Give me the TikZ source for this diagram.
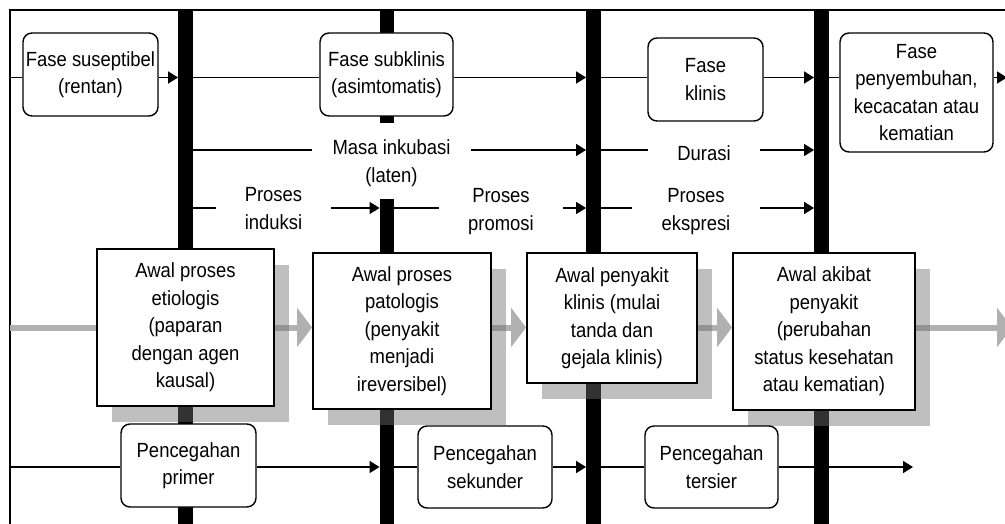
\documentclass[tikz,border=0pt]{standalone}
\usepackage{fontspec}
\setmainfont{Liberation Sans}[FakeStretch=0.9]
\usetikzlibrary{arrows.meta,shadows}
\pgfdeclarelayer{bars}
\pgfsetlayers{bars,main}
\begin{document}
\begin{tikzpicture}[x=1pt,y=-1pt,
  every node/.style={font=\fontsize{20.5}{27.5}\selectfont, align=center, inner sep=0pt},
  phase/.style={draw, line width=1.4pt, rounded corners=9pt, fill=white},
  event/.style={draw, line width=2pt, fill=white,
    drop shadow={shadow xshift=15pt, shadow yshift=-16pt, fill=black!56, opacity=0.45}},
  bar/.style={fill=black, minimum width=14.5pt},
  lbl/.style={inner xsep=29pt},
  ln/.style={line width=1.6pt},
  arr/.style={line width=1.6pt, -{Triangle[length=10pt,width=12pt]}},
  gline/.style={line width=6pt, draw=black!31},
  garr/.style={line width=6pt, draw=black!31, -{Triangle[length=15pt,width=39pt]}, color=black!31},
  frame/.style={line width=1.5pt}]
\useasboundingbox (0,0) rectangle (1005,524);
\clip (0,0) rectangle (1005,524);

% frame corners and row levels
\coordinate (L) at (10,10);
\coordinate (R) at (1005,10);
\coordinate (LB) at (10,524);
\coordinate (r1) at (0,77.5);
\coordinate (r2) at (0,150);
\coordinate (r3) at (0,208);
\coordinate (r4) at (0,467);
\coordinate (r5) at (0,327.5);
\coordinate (e1) at (1007,77.5);
\coordinate (e4) at (913,467);
\coordinate (e5) at (1012,327.5);

% bars
\begin{pgfonlayer}{bars}
\node[bar, minimum height=514pt] (b1) at (185.5,267) {};
\node[bar, minimum height=113pt] (b2a) at (387,66.5) {};
\node[bar, minimum height=325pt] (b2b) at (387,361.5) {};
\node[bar, minimum height=514pt] (b3) at (593.5,267) {};
\node[bar, minimum height=514pt] (b4) at (821.5,267) {};
\draw[frame] (LB) -- (L) -- (R);
\end{pgfonlayer}

% top phase boxes
\node[phase, minimum width=135pt, minimum height=83pt] (sus) at (90.5,74.5) {Fase suseptibel\\(rentan)};
\node[phase, minimum width=133pt, minimum height=83pt] (sub) at (386.5,74.5) {Fase subklinis\\(asimtomatis)};
\node[phase, minimum width=115pt, minimum height=83pt] (kli) at (705.5,79.5) {Fase\\klinis};
\node[phase, minimum width=153pt, minimum height=119pt] (pen) at (916.5,92.5) {Fase\\penyembuhan,\\kecacatan atau\\kematian};

% period labels
\node[inner xsep=20pt] (masa) at (391.5,163) {Masa inkubasi\\(laten)};
\node[lbl] (dur) at (704,153) {Durasi};
\node[lbl] (ind) at (273.5,208.5) {Proses\\induksi};
\node[lbl] (pro) at (501,211.5) {Proses\\promosi};
\node[lbl] (eks) at (696,211.5) {Proses\\ekspresi};

% event boxes
\node[event, minimum width=177pt, minimum height=157pt] (A) at (185.5,327.5) {Awal proses\\etiologis\\(paparan\\dengan agen\\kausal)};
\node[event, minimum width=178pt, minimum height=156pt] (B) at (402,331) {Awal proses\\patologis\\(penyakit\\menjadi\\ireversibel)};
\node[event, minimum width=170pt, minimum height=130pt] (C) at (612,318) {Awal penyakit\\klinis (mulai\\tanda dan\\gejala klinis)};
\node[event, minimum width=182pt, minimum height=157pt] (D) at (824,331.5) {Awal akibat\\penyakit\\(perubahan\\status kesehatan\\atau kematian)};

% prevention boxes
\node[phase, minimum width=135pt, minimum height=83pt] (pri) at (188.5,465.5) {Pencegahan\\primer};
\node[phase, minimum width=134pt, minimum height=82pt] (sek) at (485,467) {Pencegahan\\sekunder};
\node[phase, minimum width=133pt, minimum height=82pt] (ter) at (711.5,467) {Pencegahan\\tersier};

% gray event arrows
\begin{pgfonlayer}{bars}
\draw[gline] (L |- r5) -- (A.west |- r5);
\draw[garr] (A.east |- r5) -- (B.west |- r5);
\draw[garr] (B.east |- r5) -- (C.west |- r5);
\draw[garr] (C.east |- r5) -- (D.west |- r5);
\draw[garr] (D.east |- r5) -- (e5);
\end{pgfonlayer}

% row 1
\draw[ln] (L |- r1) -- (sus.west |- r1);
\draw[arr] (sus.east |- r1) -- (b1.west |- r1);
\draw[ln] (b1.east |- r1) -- (sub.west |- r1);
\draw[arr] (sub.east |- r1) -- (b3.west |- r1);
\draw[ln] (b3.east |- r1) -- (kli.west |- r1);
\draw[arr] (kli.east |- r1) -- (b4.west |- r1);
\draw[ln] (b4.east |- r1) -- (pen.west |- r1);
\draw[arr] (pen.east |- r1) -- (e1);

% row 2
\draw[ln] (b1.east |- r2) -- (masa.west |- r2);
\draw[arr] (masa.east |- r2) -- (b3.west |- r2);
\draw[ln] (b3.east |- r2) -- (dur.west |- r2);
\draw[arr] (dur.east |- r2) -- (b4.west |- r2);

% row 3
\draw[ln] (b1.east |- r3) -- (ind.west |- r3);
\draw[arr] (ind.east |- r3) -- (b2b.west |- r3);
\draw[ln] (b2b.east |- r3) -- (pro.west |- r3);
\draw[arr] (pro.east |- r3) -- (b3.west |- r3);
\draw[ln] (b3.east |- r3) -- (eks.west |- r3);
\draw[arr] (eks.east |- r3) -- (b4.west |- r3);

% row 4
\draw[ln] (L |- r4) -- (pri.west |- r4);
\draw[arr] (pri.east |- r4) -- (b2b.west |- r4);
\draw[ln] (b2b.east |- r4) -- (sek.west |- r4);
\draw[arr] (sek.east |- r4) -- (b3.west |- r4);
\draw[ln] (b3.east |- r4) -- (ter.west |- r4);
\draw[arr] (ter.east |- r4) -- (e4);
\end{tikzpicture}
\end{document}
